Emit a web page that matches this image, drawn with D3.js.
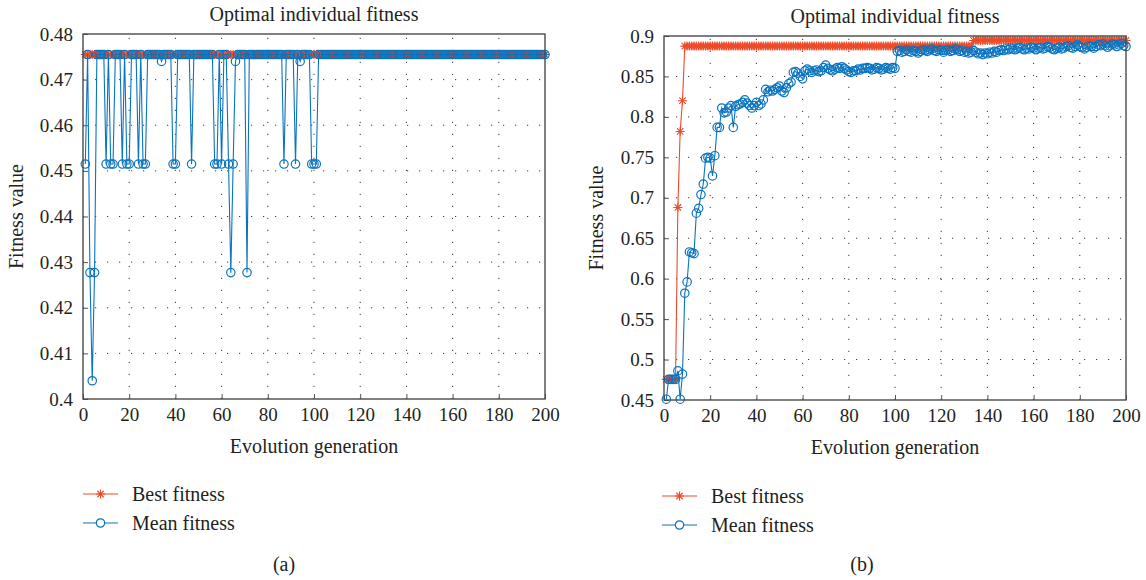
<!DOCTYPE html>
<html>
<head>
<meta charset="utf-8">
<script src="https://cdn.jsdelivr.net/npm/d3@7"></script>
<style>
body { margin: 0; background: #fff; }
</style>
</head>
<body>
<svg id="chart" width="1146" height="580"></svg>
<script>
// generations run 1..200, value i sits at generation i + 1
const xTicks = [0, 20, 40, 60, 80, 100, 120, 140, 160, 180, 200];
const yTicksA = [0.4, 0.41, 0.42, 0.43, 0.44, 0.45, 0.46, 0.47, 0.48];
const yTicksB = [0.45, 0.5, 0.55, 0.6, 0.65, 0.7, 0.75, 0.8, 0.85, 0.9];
const seriesNames = ["Best fitness", "Mean fitness"];

// panel (a)
const bestA = [
  0.4755, 0.4755, 0.4755, 0.4755, 0.4755, 0.4755, 0.4755, 0.4755, 0.4755, 0.4755, 0.4755, 0.4755, 0.4755, 0.4755, 0.4755, 0.4755, 0.4755, 0.4755, 0.4755, 0.4755,
  0.4755, 0.4755, 0.4755, 0.4755, 0.4755, 0.4755, 0.4755, 0.4755, 0.4755, 0.4755, 0.4755, 0.4755, 0.4755, 0.4755, 0.4755, 0.4755, 0.4755, 0.4755, 0.4755, 0.4755,
  0.4755, 0.4755, 0.4755, 0.4755, 0.4755, 0.4755, 0.4755, 0.4755, 0.4755, 0.4755, 0.4755, 0.4755, 0.4755, 0.4755, 0.4755, 0.4755, 0.4755, 0.4755, 0.4755, 0.4755,
  0.4755, 0.4755, 0.4755, 0.4755, 0.4755, 0.4755, 0.4755, 0.4755, 0.4755, 0.4755, 0.4755, 0.4755, 0.4755, 0.4755, 0.4755, 0.4755, 0.4755, 0.4755, 0.4755, 0.4755,
  0.4755, 0.4755, 0.4755, 0.4755, 0.4755, 0.4755, 0.4755, 0.4755, 0.4755, 0.4755, 0.4755, 0.4755, 0.4755, 0.4755, 0.4755, 0.4755, 0.4755, 0.4755, 0.4755, 0.4755,
  0.4755, 0.4755, 0.4755, 0.4755, 0.4755, 0.4755, 0.4755, 0.4755, 0.4755, 0.4755, 0.4755, 0.4755, 0.4755, 0.4755, 0.4755, 0.4755, 0.4755, 0.4755, 0.4755, 0.4755,
  0.4755, 0.4755, 0.4755, 0.4755, 0.4755, 0.4755, 0.4755, 0.4755, 0.4755, 0.4755, 0.4755, 0.4755, 0.4755, 0.4755, 0.4755, 0.4755, 0.4755, 0.4755, 0.4755, 0.4755,
  0.4755, 0.4755, 0.4755, 0.4755, 0.4755, 0.4755, 0.4755, 0.4755, 0.4755, 0.4755, 0.4755, 0.4755, 0.4755, 0.4755, 0.4755, 0.4755, 0.4755, 0.4755, 0.4755, 0.4755,
  0.4755, 0.4755, 0.4755, 0.4755, 0.4755, 0.4755, 0.4755, 0.4755, 0.4755, 0.4755, 0.4755, 0.4755, 0.4755, 0.4755, 0.4755, 0.4755, 0.4755, 0.4755, 0.4755, 0.4755,
  0.4755, 0.4755, 0.4755, 0.4755, 0.4755, 0.4755, 0.4755, 0.4755, 0.4755, 0.4755, 0.4755, 0.4755, 0.4755, 0.4755, 0.4755, 0.4755, 0.4755, 0.4755, 0.4755, 0.4755
];
const meanA = [
  0.4515, 0.4755, 0.4277, 0.404, 0.4277, 0.4755, 0.4755, 0.4755, 0.4755, 0.4515, 0.4755, 0.4515, 0.4515, 0.4755, 0.4755, 0.4755, 0.4515, 0.4755, 0.4515, 0.4515,
  0.4755, 0.4755, 0.4755, 0.4515, 0.4755, 0.4515, 0.4515, 0.4755, 0.4755, 0.4755, 0.4755, 0.4755, 0.4755, 0.474, 0.4755, 0.4755, 0.4755, 0.4755, 0.4515, 0.4515,
  0.4755, 0.4755, 0.4755, 0.4755, 0.4755, 0.4755, 0.4515, 0.4755, 0.4755, 0.4755, 0.4755, 0.4755, 0.4755, 0.4755, 0.4755, 0.4755, 0.4515, 0.4515, 0.4755, 0.4515,
  0.4755, 0.4755, 0.4515, 0.4277, 0.4515, 0.474, 0.4755, 0.4755, 0.4755, 0.4755, 0.4277, 0.4755, 0.4755, 0.4755, 0.4755, 0.4755, 0.4755, 0.4755, 0.4755, 0.4755,
  0.4755, 0.4755, 0.4755, 0.4755, 0.4755, 0.4755, 0.4515, 0.4755, 0.4755, 0.4755, 0.4755, 0.4515, 0.4755, 0.474, 0.4755, 0.4755, 0.4755, 0.4755, 0.4515, 0.4515,
  0.4515, 0.4755, 0.4755, 0.4755, 0.4755, 0.4755, 0.4755, 0.4755, 0.4755, 0.4755, 0.4755, 0.4755, 0.4755, 0.4755, 0.4755, 0.4755, 0.4755, 0.4755, 0.4755, 0.4755,
  0.4755, 0.4755, 0.4755, 0.4755, 0.4755, 0.4755, 0.4755, 0.4755, 0.4755, 0.4755, 0.4755, 0.4755, 0.4755, 0.4755, 0.4755, 0.4755, 0.4755, 0.4755, 0.4755, 0.4755,
  0.4755, 0.4755, 0.4755, 0.4755, 0.4755, 0.4755, 0.4755, 0.4755, 0.4755, 0.4755, 0.4755, 0.4755, 0.4755, 0.4755, 0.4755, 0.4755, 0.4755, 0.4755, 0.4755, 0.4755,
  0.4755, 0.4755, 0.4755, 0.4755, 0.4755, 0.4755, 0.4755, 0.4755, 0.4755, 0.4755, 0.4755, 0.4755, 0.4755, 0.4755, 0.4755, 0.4755, 0.4755, 0.4755, 0.4755, 0.4755,
  0.4755, 0.4755, 0.4755, 0.4755, 0.4755, 0.4755, 0.4755, 0.4755, 0.4755, 0.4755, 0.4755, 0.4755, 0.4755, 0.4755, 0.4755, 0.4755, 0.4755, 0.4755, 0.4755, 0.4755
];

// panel (b)
const bestB = [
  0.4755, 0.4755, 0.4755, 0.4755, 0.4755, 0.688, 0.782, 0.820, 0.8875, 0.8875, 0.8875, 0.8875, 0.8875, 0.8875, 0.8875, 0.8875, 0.8875, 0.8875, 0.8875, 0.8875,
  0.8875, 0.8875, 0.8875, 0.8875, 0.8875, 0.8875, 0.8875, 0.8875, 0.8875, 0.8875, 0.8875, 0.8875, 0.8875, 0.8875, 0.8875, 0.8875, 0.8875, 0.8875, 0.8875, 0.8875,
  0.8875, 0.8875, 0.8875, 0.8875, 0.8875, 0.8875, 0.8875, 0.8875, 0.8875, 0.8875, 0.8875, 0.8875, 0.8875, 0.8875, 0.8875, 0.8875, 0.8875, 0.8875, 0.8875, 0.8875,
  0.8875, 0.8875, 0.8875, 0.8875, 0.8875, 0.8875, 0.8875, 0.8875, 0.8875, 0.8875, 0.8875, 0.8875, 0.8875, 0.8875, 0.8875, 0.8875, 0.8875, 0.8875, 0.8875, 0.8875,
  0.8875, 0.8875, 0.8875, 0.8875, 0.8875, 0.8875, 0.8875, 0.8875, 0.8875, 0.8875, 0.8875, 0.8875, 0.8875, 0.8875, 0.8875, 0.8875, 0.8875, 0.8875, 0.8875, 0.8875,
  0.8875, 0.8875, 0.8875, 0.8875, 0.8875, 0.8875, 0.8875, 0.8875, 0.8875, 0.8875, 0.8875, 0.8875, 0.8875, 0.8875, 0.8875, 0.8875, 0.8875, 0.8875, 0.8875, 0.8875,
  0.8875, 0.8875, 0.8875, 0.8875, 0.8875, 0.8875, 0.8875, 0.8875, 0.8875, 0.8875, 0.8875, 0.8875, 0.8875, 0.8945, 0.8945, 0.8945, 0.8945, 0.8945, 0.8945, 0.8945,
  0.8945, 0.8945, 0.8945, 0.8945, 0.8945, 0.8945, 0.8945, 0.8945, 0.8945, 0.8945, 0.8945, 0.8945, 0.8945, 0.8945, 0.8945, 0.8945, 0.8945, 0.8945, 0.8945, 0.8945,
  0.8945, 0.8945, 0.8945, 0.8945, 0.8945, 0.8945, 0.8945, 0.8945, 0.8945, 0.8945, 0.8945, 0.8945, 0.8945, 0.8945, 0.8945, 0.8945, 0.8945, 0.8945, 0.8945, 0.8945,
  0.8945, 0.8945, 0.8945, 0.8945, 0.8945, 0.8945, 0.8945, 0.8945, 0.8945, 0.8945, 0.8945, 0.8945, 0.8945, 0.8945, 0.8945, 0.8945, 0.8945, 0.8945, 0.8945, 0.8945
];
const meanB = [
  0.451, 0.4755, 0.4755, 0.4755, 0.4755, 0.486, 0.451, 0.482, 0.582, 0.596, 0.633, 0.632, 0.631, 0.681, 0.687, 0.704, 0.717, 0.749, 0.750, 0.749,
  0.727, 0.752, 0.787, 0.787, 0.811, 0.805, 0.806, 0.811, 0.814, 0.787, 0.813, 0.815, 0.816, 0.818, 0.821, 0.817, 0.814, 0.811, 0.814, 0.818,
  0.814, 0.816, 0.821, 0.834, 0.831, 0.833, 0.832, 0.834, 0.836, 0.838, 0.832, 0.830, 0.836, 0.841, 0.843, 0.855, 0.856, 0.854, 0.850, 0.847,
  0.857, 0.859, 0.857, 0.855, 0.857, 0.858, 0.856, 0.857, 0.861, 0.864, 0.860, 0.858, 0.857, 0.859, 0.861, 0.860, 0.862, 0.860, 0.858, 0.856,
  0.855, 0.857, 0.857, 0.859, 0.858, 0.860, 0.860, 0.861, 0.860, 0.858, 0.859, 0.861, 0.860, 0.858, 0.859, 0.861, 0.860, 0.859, 0.861, 0.860,
  0.881, 0.882, 0.880, 0.881, 0.883, 0.881, 0.880, 0.882, 0.881, 0.879, 0.881, 0.883, 0.882, 0.881, 0.883, 0.884, 0.882, 0.881, 0.883, 0.882,
  0.880, 0.882, 0.883, 0.881, 0.882, 0.884, 0.883, 0.881, 0.882, 0.880, 0.881, 0.879, 0.880, 0.882, 0.880, 0.878, 0.879, 0.877, 0.879, 0.878,
  0.880, 0.879, 0.881, 0.880, 0.882, 0.883, 0.882, 0.884, 0.883, 0.885, 0.884, 0.883, 0.885, 0.886, 0.884, 0.883, 0.885, 0.884, 0.886, 0.885,
  0.883, 0.885, 0.886, 0.884, 0.885, 0.887, 0.886, 0.884, 0.883, 0.885, 0.886, 0.884, 0.885, 0.887, 0.888, 0.886, 0.885, 0.887, 0.889, 0.887,
  0.886, 0.884, 0.886, 0.888, 0.887, 0.885, 0.887, 0.889, 0.888, 0.890, 0.888, 0.886, 0.888, 0.890, 0.889, 0.887, 0.889, 0.891, 0.888, 0.887
];

const RED = "#ee4a2a";
const BLUE = "#0a74bf";
const INK = "#231f20";
const FONT = "'Liberation Serif', 'DejaVu Serif', serif";

const svg = d3.select("#chart");
svg.append("rect").attr("width", 1146).attr("height", 580).attr("fill", "#fff");

// asterisk marker (MATLAB '*')
function starPath(s) {
    const d = s * 0.72;
    return `M${-s},0H${s}M0,${-s}V${s}M${-d},${-d}L${d},${d}M${-d},${d}L${d},${-d}`;
}

function addText(sel, size) {
    return sel.append("text")
        .attr("font-family", FONT)
        .style("font-family", FONT)
        .style("font-size", size + "px")
        .attr("fill", INK);
}

function drawPanel(cfg) {
    const {left, right, top, bottom, yDomain, yTicks, best, mean, caption, legendX, legendY, labelX} = cfg;

    const x = d3.scaleLinear().domain([0, 200]).range([left, right]);
    const y = d3.scaleLinear().domain(yDomain).range([bottom, top]);

    const g = svg.append("g");

    // dotted grid
    g.append("g").selectAll("line")
        .data(xTicks.slice(1, -1))
        .enter().append("line")
        .attr("x1", d => x(d)).attr("x2", d => x(d))
        .attr("y1", bottom).attr("y2", top)
        .attr("stroke", "#3a3a3a").attr("stroke-width", 1)
        .attr("stroke-dasharray", "1.2,10.8");
    g.append("g").selectAll("line")
        .data(yTicks.slice(1, -1))
        .enter().append("line")
        .attr("x1", left).attr("x2", right)
        .attr("y1", d => y(d)).attr("y2", d => y(d))
        .attr("stroke", "#3a3a3a").attr("stroke-width", 1)
        .attr("stroke-dasharray", "1.2,10.8");

    // axes, ticks pointing inward
    const xAxis = d3.axisBottom(x).tickValues(xTicks).tickSize(-5).tickPadding(9).tickFormat(d3.format("d"));
    const yAxis = d3.axisLeft(y).tickValues(yTicks).tickSize(-5).tickPadding(10).tickFormat(d => String(+d.toFixed(2)));

    g.append("g")
        .attr("transform", `translate(0,${bottom})`)
        .call(xAxis)
        .attr("font-family", FONT)
        .call(a => a.select(".domain").remove())
        .call(a => a.selectAll("line").attr("stroke", "#555"))
        .call(a => a.selectAll("text").style("font-family", FONT).style("font-size", "19px").attr("fill", INK));
    g.append("g")
        .attr("transform", `translate(${left},0)`)
        .call(yAxis)
        .attr("font-family", FONT)
        .call(a => a.select(".domain").remove())
        .call(a => a.selectAll("line").attr("stroke", "#555"))
        .call(a => a.selectAll("text").style("font-family", FONT).style("font-size", "19px").attr("fill", INK));

    // series
    const line = d3.line()
        .x((d, i) => x(i + 1))
        .y(d => y(d));

    g.append("path").datum(best)
        .attr("d", line).attr("fill", "none")
        .attr("stroke", RED).attr("stroke-width", 1.1);
    g.append("g").selectAll("path")
        .data(best)
        .enter().append("path")
        .attr("transform", (d, i) => `translate(${x(i + 1)},${y(d)})`)
        .attr("d", starPath(4.5))
        .attr("stroke", RED).attr("stroke-width", 1.1).attr("fill", "none");

    g.append("path").datum(mean)
        .attr("d", line).attr("fill", "none")
        .attr("stroke", BLUE).attr("stroke-width", 1.1);
    g.append("g").selectAll("circle")
        .data(mean)
        .enter().append("circle")
        .attr("cx", (d, i) => x(i + 1))
        .attr("cy", d => y(d))
        .attr("r", 4.2)
        .attr("fill", "none")
        .attr("stroke", BLUE).attr("stroke-width", 1.2);

    // box
    g.append("rect")
        .attr("x", left).attr("y", top)
        .attr("width", right - left).attr("height", bottom - top)
        .attr("fill", "none").attr("stroke", "#4a4a4a").attr("stroke-width", 1.4);

    // texts
    const mid = (left + right) / 2;
    addText(g, 20)
        .attr("x", mid).attr("y", top - 13)
        .attr("text-anchor", "middle")
        .text("Optimal individual fitness");
    addText(g, 20)
        .attr("x", mid).attr("y", bottom + 54)
        .attr("text-anchor", "middle")
        .text("Evolution generation");
    addText(g, 20)
        .attr("transform", `translate(${labelX},${(top + bottom) / 2}) rotate(-90)`)
        .attr("text-anchor", "middle")
        .text("Fitness value");

    // legend
    const legend = g.append("g").attr("transform", `translate(${legendX},${legendY})`);
    const items = legend.selectAll("g")
        .data(seriesNames)
        .enter().append("g")
        .attr("transform", (d, i) => `translate(0,${i * 29})`);
    items.append("line")
        .attr("x1", 0).attr("x2", 35)
        .attr("stroke", (d, i) => i === 0 ? RED : BLUE).attr("stroke-width", 1.1);
    items.filter((d, i) => i === 0).append("path")
        .attr("transform", "translate(17.5,0)")
        .attr("d", starPath(4.5)).attr("stroke", RED).attr("stroke-width", 1.1).attr("fill", "none");
    items.filter((d, i) => i === 1).append("circle")
        .attr("cx", 17.5).attr("r", 4.2)
        .attr("fill", "#fff").attr("stroke", BLUE).attr("stroke-width", 1.2);
    items.each(function(d) {
        addText(d3.select(this), 20)
            .attr("x", 49).attr("dy", "0.33em")
            .text(d);
    });

    addText(g, 20)
        .attr("x", caption.x).attr("y", 571)
        .attr("text-anchor", "middle")
        .text(caption.text);
}

drawPanel({
    left: 83, right: 545, top: 34, bottom: 399,
    yDomain: [0.4, 0.48], yTicks: yTicksA,
    best: bestA, mean: meanA,
    caption: {x: 284, text: "(a)"},
    legendX: 83, legendY: 494, labelX: 23
});

drawPanel({
    left: 664, right: 1126, top: 36, bottom: 400,
    yDomain: [0.45, 0.9], yTicks: yTicksB,
    best: bestB, mean: meanB,
    caption: {x: 862, text: "(b)"},
    legendX: 662, legendY: 496, labelX: 603
});
</script>
</body>
</html>
